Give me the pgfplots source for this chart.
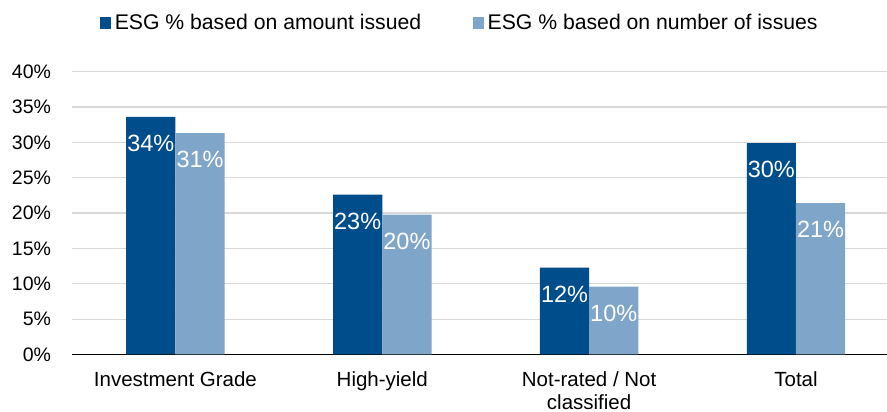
\documentclass[border=0pt]{standalone}
\usepackage{fontspec}
\setmainfont{Liberation Sans}
\usepackage{pgfplots}
\pgfplotsset{compat=1.18}

\definecolor{esgdark}{RGB}{0,77,140}
\definecolor{esglight}{RGB}{127,166,200}
\definecolor{gridgray}{RGB}{217,217,217}

\begin{document}
\begin{tikzpicture}
\useasboundingbox (0,0) rectangle (887pt,412pt);
\begin{axis}[
  at={(72pt,57.5pt)}, anchor=south west,
  scale only axis,
  width=815pt, height=282.8pt,
  xmin=-0.5, xmax=3.44,
  ymin=0, ymax=40,
  ytick={0,5,...,40},
  yticklabel={\pgfmathprintnumber{\tick}\%},
  xtick={0,1,2,3},
  xticklabels={Investment Grade, High-yield, {Not-rated / Not\\classified}, Total},
  /pgf/number format/assume math mode=true,
  major tick length=0pt,
  axis x line*=bottom,
  axis y line*=left,
  y axis line style={draw=none},
  x axis line style={black, line width=1.5pt},
  ymajorgrids,
  grid style={gridgray, line width=1.2pt},
  yticklabel style={font=\fontsize{19.5}{23}\selectfont, anchor=east, xshift=-17.5pt},
  xticklabel style={font=\fontsize{20.5}{22.5}\selectfont, align=center, anchor=north, yshift=-14pt},
  ybar=0pt,
  bar width=0.238,
  nodes near coords={\pgfmathprintnumber[fixed,precision=0]{\pgfplotspointmeta}\%},
  every node near coord/.append style={anchor=center, yshift=-26.5pt, text=white,
    font=\fontsize{23.5}{26}\selectfont},
  legend columns=-1,
  legend style={draw=none, fill=none, at={(0.476,1.172)}, anchor=center,
    font=\fontsize{21.2}{24}\selectfont,
    /tikz/every even column/.append style={column sep=50pt}},
  legend image code/.code={\fill[#1] (0pt,-5.8pt) rectangle (10.5pt,5.8pt);
    \path (0pt,0pt) -- (12.5pt,0pt);},
]
\addplot[fill=esgdark, draw=none, bar shift=-0.119]
  coordinates {(0,33.6) (1,22.6) (2,12.3) (3,29.9)};
\addplot[fill=esglight, draw=none, bar shift=0.119]
  coordinates {(0,31.3) (1,19.8) (2,9.6) (3,21.4)};
\legend{ESG \% based on amount issued, ESG \% based on number of issues}
\end{axis}
\end{tikzpicture}
\end{document}
